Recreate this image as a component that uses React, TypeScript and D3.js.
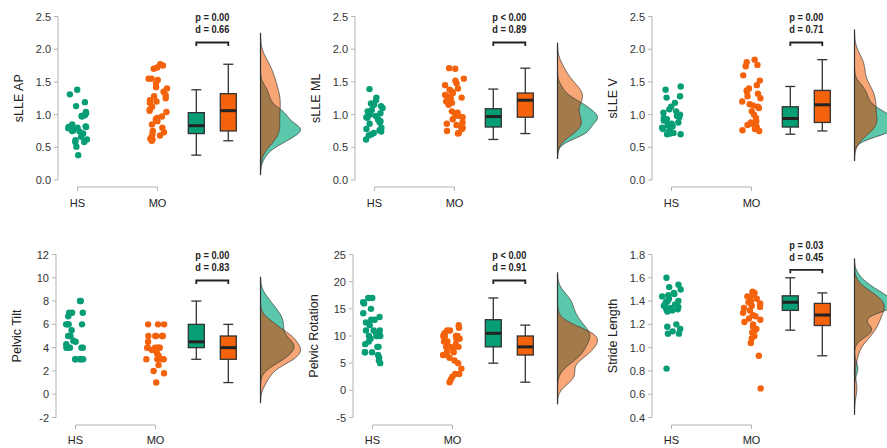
import React from 'react'
import * as d3 from 'd3'

// group names
const categories = ['HS', 'MO']
const titles = ['sLLE AP', 'sLLE ML', 'sLLE V', 'Pelvic Tilt', 'Pelvic Rotation', 'Stride Length']

const apHS = [1.38, 1.31, 1.19, 1.13, 1.04, 1.02, 1.0, 0.99, 0.98, 0.97, 0.85, 0.82, 0.81, 0.81, 0.8, 0.79, 0.76, 0.76, 0.75, 0.74, 0.71, 0.66, 0.62, 0.61, 0.58, 0.58, 0.51, 0.38]
const apMO = [1.77, 1.75, 1.72, 1.7, 1.55, 1.55, 1.53, 1.47, 1.42, 1.4, 1.35, 1.3, 1.28, 1.25, 1.22, 1.2, 1.18, 1.12, 1.08, 1.06, 1.04, 0.97, 0.95, 0.93, 0.9, 0.85, 0.8, 0.75, 0.73, 0.7, 0.68, 0.65, 0.63, 0.62, 0.6]
const mlHS = [1.39, 1.26, 1.22, 1.17, 1.15, 1.13, 1.1, 1.07, 1.05, 1.02, 1.0, 0.98, 0.96, 0.95, 0.93, 0.92, 0.9, 0.88, 0.86, 0.8, 0.78, 0.76, 0.74, 0.72, 0.7, 0.68, 0.62]
const mlMO = [1.71, 1.7, 1.55, 1.52, 1.48, 1.45, 1.4, 1.38, 1.35, 1.33, 1.3, 1.28, 1.26, 1.25, 1.22, 1.2, 1.18, 1.15, 1.05, 1.03, 1.0, 0.98, 0.96, 0.93, 0.88, 0.86, 0.84, 0.82, 0.8, 0.78, 0.75, 0.72, 0.71]
const vHS = [1.43, 1.38, 1.28, 1.26, 1.18, 1.12, 1.08, 1.05, 1.03, 1.0, 0.98, 0.96, 0.95, 0.93, 0.91, 0.88, 0.86, 0.84, 0.82, 0.8, 0.78, 0.76, 0.74, 0.72, 0.71, 0.7, 0.7]
const vMO = [1.84, 1.8, 1.76, 1.74, 1.6, 1.52, 1.45, 1.4, 1.37, 1.35, 1.32, 1.28, 1.25, 1.2, 1.16, 1.14, 1.12, 1.1, 1.05, 1.0, 0.95, 0.9, 0.88, 0.86, 0.84, 0.82, 0.8, 0.78, 0.76, 0.75]
const tiltHS = [8, 8, 7, 7, 7, 6.7, 6, 6, 6, 6, 5.5, 5, 5, 4.6, 4.5, 4.3, 4, 4, 4, 4, 4, 4, 3, 3, 3, 3, 3]
const tiltMO = [6, 6, 6, 5, 5, 5, 5, 5, 5, 4.5, 4, 4, 4, 4, 4, 4, 3.8, 3.5, 3.3, 3, 3, 3, 3, 3, 2.5, 2, 1.8, 1]
const rotHS = [17, 17, 16.2, 16, 15, 14.2, 13.5, 13, 13, 12.5, 12, 11, 11, 11, 10.5, 10, 10, 10, 10, 9.5, 9, 8.5, 8, 8, 7, 7, 7, 6.5, 6, 5.5, 5]
const rotMO = [12, 11.5, 11, 11, 10.5, 10, 10, 10, 10, 9.5, 9.5, 9, 9, 8.5, 8, 8, 8, 7.5, 7, 7, 6.5, 6.5, 6, 5.5, 5, 4, 3, 3, 2.5, 2, 1.5]
const strideHS = [1.6, 1.54, 1.52, 1.5, 1.47, 1.46, 1.45, 1.44, 1.42, 1.4, 1.4, 1.39, 1.38, 1.37, 1.36, 1.35, 1.34, 1.33, 1.33, 1.32, 1.31, 1.2, 1.18, 1.16, 1.14, 1.12, 1.12, 0.82]
const strideMO = [1.48, 1.47, 1.45, 1.44, 1.42, 1.4, 1.39, 1.38, 1.37, 1.36, 1.35, 1.34, 1.32, 1.3, 1.28, 1.27, 1.25, 1.24, 1.22, 1.2, 1.18, 1.16, 1.15, 1.13, 1.1, 1.08, 1.04, 0.93, 0.65]

// box stats: [lower whisker, q1, median, q3, upper whisker]
const apBoxes = [[0.38, 0.71, 0.83, 1.03, 1.38], [0.6, 0.75, 1.06, 1.32, 1.77]]
const mlBoxes = [[0.62, 0.81, 0.97, 1.09, 1.39], [0.71, 0.96, 1.22, 1.33, 1.71]]
const vBoxes = [[0.7, 0.81, 0.94, 1.12, 1.43], [0.75, 0.88, 1.15, 1.37, 1.84]]
const tiltBoxes = [[3, 4, 4.5, 6, 8], [1, 3, 4, 5, 6]]
const rotBoxes = [[5, 8, 10.5, 13, 17], [1.5, 6.5, 8, 10, 12]]
const strideBoxes = [[1.15, 1.32, 1.39, 1.445, 1.6], [0.93, 1.19, 1.28, 1.38, 1.47]]

// y ticks
const lleTicks = [0, 0.5, 1, 1.5, 2, 2.5]
const tiltTicks = [-2, 0, 2, 4, 6, 8, 10, 12]
const rotTicks = [-5, 0, 5, 10, 15, 20, 25]
const strideTicks = [0.4, 0.6, 0.8, 1, 1.2, 1.4, 1.6, 1.8]

// test annotations
const pLabels = ['p = 0.00', 'p < 0.00', 'p = 0.00', 'p = 0.00', 'p < 0.00', 'p = 0.03']
const dLabels = ['d = 0.66', 'd = 0.89', 'd = 0.71', 'd = 0.83', 'd = 0.91', 'd = 0.45']

const W = 887
const H = 448
const pointColors = ['#079E76', '#F4620C']
const densColors = ['#5BC8AC', '#F8A676']
const overlapColor = '#A37A49'
const panelLeft = [0, 297, 594]
const axisXs = [58, 355, 652, 56, 353, 652]
const rows = [
  { top: 16.5, bottom: 180, axisY: 187, labelY: 207 },
  { top: 254.5, bottom: 417.5, axisY: 425, labelY: 444 }
]

// R's bw.nrd0
function bandwidth (v: number[]) {
  const s = [...v].sort(d3.ascending)
  const sd = d3.deviation(s) || 0
  const iqr = (d3.quantile(s, 0.75) || 0) - (d3.quantile(s, 0.25) || 0)
  const lo = Math.min(sd, iqr / 1.34) || sd
  return 0.9 * lo * Math.pow(s.length, -0.2)
}

function kde (v: number[], bw: number, t: number) {
  return (d3.mean(v, x => Math.exp(-0.5 * ((t - x) / bw) ** 2)) || 0) / (bw * Math.sqrt(2 * Math.PI))
}

/**
 * Half violin for both groups, overlap painted separately
 */
function Densities ({ groups, y, base }: { groups: number[][], y: d3.ScaleLinear<number, number>, base: number }) {
  const info = groups.map(v => {
    const bw = bandwidth(v)
    return { v, bw, lo: (d3.min(v) as number) - 3 * bw, hi: (d3.max(v) as number) + 3 * bw }
  })
  const lo = d3.min(info, d => d.lo) as number
  const hi = d3.max(info, d => d.hi) as number
  const n = 400
  const grid = d3.range(n + 1).map(i => lo + (hi - lo) * i / n)
  const dens = info.map(g => grid.map(t => (t >= g.lo && t <= g.hi) ? kde(g.v, g.bw, t) : NaN))
  const fmax = d3.max(dens.flat().filter(f => !isNaN(f))) as number
  const w = d3.scaleLinear().domain([0, fmax]).range([0, 40])

  const area = d3.area<[number, number]>()
    .y(d => y(d[0]))
    .x0(base)
    .x1(d => base + w(d[1]))
  const line = d3.line<[number, number]>()
    .y(d => y(d[0]))
    .x(d => base + w(d[1]))

  const series = dens.map(fs => grid.map((t, i) => [t, fs[i]] as [number, number]).filter(d => !isNaN(d[1])))
  const overlap = grid
    .map((t, i) => [t, Math.min(dens[0][i], dens[1][i])] as [number, number])
    .filter(d => !isNaN(d[1]))

  return (
    <g>
      {series.map((s, i) => <path key={'a' + i} d={area(s) || ''} fill={densColors[i]} />)}
      <path d={area(overlap) || ''} fill={overlapColor} />
      {series.map((s, i) => <path key={'l' + i} d={line(s) || ''} fill='none' stroke='#3a3a3a' strokeWidth={0.8} />)}
      <line x1={base} x2={base} y1={y(lo)} y2={y(hi)} stroke='#333' strokeWidth={1.2} />
    </g>
  )
}

/**
 * One raincloud panel
 */
function Panel ({ idx, groups, boxes, ticks, decimals }: { idx: number, groups: number[][], boxes: number[][], ticks: number[], decimals: number }) {
  const row = rows[Math.floor(idx / 3)]
  const left = panelLeft[idx % 3]
  const ax = axisXs[idx]
  const y = d3.scaleLinear()
    .domain([ticks[0], ticks[ticks.length - 1]])
    .range([row.bottom, row.top])
  const x = d3.scalePoint<string>().domain(categories).range([ax + 19.5, ax + 99.5])
  const boxX = [left + 196.3, left + 228.3]
  const fmt = d3.format('.' + decimals + 'f')
  const rng = d3.randomUniform.source(d3.randomLcg(0.17 + idx * 0.11))(-9.5, 9.5)

  const topWhisker = d3.max(boxes, b => b[4]) as number
  const bracketY = Math.min(row.top + 26, y(topWhisker) - 8)
  const midX = (boxX[0] + boxX[1]) / 2

  return (
    <g>
      {/* y axis */}
      <line x1={ax} x2={ax} y1={y(ticks[0])} y2={y(ticks[ticks.length - 1])} stroke='#b3b3b3' />
      {ticks.map(t => (
        <g key={t}>
          <line x1={ax - 4} x2={ax} y1={y(t)} y2={y(t)} stroke='#b3b3b3' />
          <text x={ax - 7} y={y(t) + 4} textAnchor='end' fontSize={11} fill='#333'>{fmt(t).replace('\u2212', '-')}</text>
        </g>
      ))}
      <text transform={`translate(${ax - 35},${(row.top + row.bottom) / 2}) rotate(-90)`} textAnchor='middle' fontSize={12.5} fill='#222'>{titles[idx]}</text>

      {/* x axis */}
      <path d={`M${x('HS')},${row.axisY + 4}V${row.axisY}H${x('MO')}V${row.axisY + 4}`} fill='none' stroke='#b3b3b3' />
      {categories.map(c => (
        <text key={c} x={x(c)} y={row.labelY} textAnchor='middle' fontSize={11} fill='#222'>{c}</text>
      ))}

      {/* jittered points */}
      {groups.map((v, g) => v.map((d, i) => (
        <circle key={g + '-' + i} cx={(x(categories[g]) as number) + rng()} cy={y(d)} r={3.2} fill={pointColors[g]} />
      )))}

      {/* boxes */}
      {boxes.map((b, g) => (
        <g key={'b' + g} stroke='#333' strokeWidth={1.3}>
          <line x1={boxX[g]} x2={boxX[g]} y1={y(b[0])} y2={y(b[4])} />
          <line x1={boxX[g] - 5} x2={boxX[g] + 5} y1={y(b[0])} y2={y(b[0])} />
          <line x1={boxX[g] - 5} x2={boxX[g] + 5} y1={y(b[4])} y2={y(b[4])} />
          <rect x={boxX[g] - 8} width={16} y={y(b[3])} height={y(b[1]) - y(b[3])} fill={pointColors[g]} />
          <line x1={boxX[g] - 8} x2={boxX[g] + 8} y1={y(b[2])} y2={y(b[2])} strokeWidth={3} stroke='#222' />
        </g>
      ))}

      {/* significance bracket */}
      <path d={`M${boxX[0]},${bracketY + 3.5}V${bracketY}H${boxX[1]}V${bracketY + 3.5}`} fill='none' stroke='#222' strokeWidth={1.8} />
      <g transform={`translate(${midX},0) scale(0.84,1)`} fontWeight='bold' fontSize={11} fill='#222' textAnchor='middle'>
        <text x={0} y={bracketY - 21}>{pLabels[idx]}</text>
        <text x={0} y={bracketY - 9}>{dLabels[idx]}</text>
      </g>

      <Densities groups={groups} y={y} base={left + 260.5} />
    </g>
  )
}

export default function App () {
  return (
    <svg width={W} height={H} style={{ position: 'absolute', left: 0, top: 0, background: '#fff', fontFamily: '"Liberation Sans", Arial, sans-serif' }}>
      <Panel idx={0} groups={[apHS, apMO]} boxes={apBoxes} ticks={lleTicks} decimals={1} />
      <Panel idx={1} groups={[mlHS, mlMO]} boxes={mlBoxes} ticks={lleTicks} decimals={1} />
      <Panel idx={2} groups={[vHS, vMO]} boxes={vBoxes} ticks={lleTicks} decimals={1} />
      <Panel idx={3} groups={[tiltHS, tiltMO]} boxes={tiltBoxes} ticks={tiltTicks} decimals={0} />
      <Panel idx={4} groups={[rotHS, rotMO]} boxes={rotBoxes} ticks={rotTicks} decimals={0} />
      <Panel idx={5} groups={[strideHS, strideMO]} boxes={strideBoxes} ticks={strideTicks} decimals={1} />
    </svg>
  )
}
